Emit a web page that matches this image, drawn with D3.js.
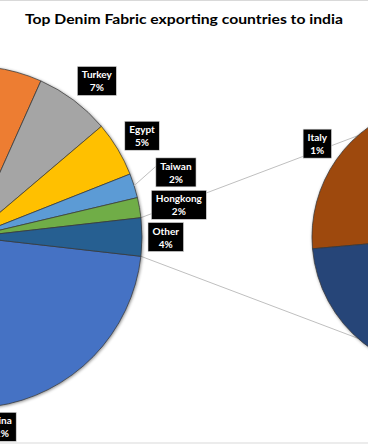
<!DOCTYPE html>
<html><head><meta charset="utf-8">
<script src="https://cdn.jsdelivr.net/npm/d3@7"></script>
<style>body{margin:0;background:#fff}svg{display:block}</style>
</head><body><svg id="c" width="368" height="445"></svg>
<script>
// ---- data ----
const title = "Top Denim Fabric exporting countries to india";
const categories = ["China", "Pakistan", "Turkey", "Egypt", "Taiwan", "Hongkong", "Other"];
const values = [42, 37.9, 7.1, 5.2, 2.3, 1.9, 3.6];
const subCategories = ["Italy", "Rest"];
const subValues = [0.8, 2.8];

// ---- styles / layout ----
const colors = ["#4472C4", "#ED7D31", "#A5A5A5", "#FFC000", "#5B9BD5", "#70AD47", "#255E91"];
const subColors = ["#9E480E", "#264478"];
const W = 368, H = 445;
const main = {cx: -29, cy: 237, r: 171};
const sub = {cx: 447, cy: 237, r: 135};
const labelNudge = {Taiwan: [16, -5], Hongkong: [6, 2], Turkey: [2, 0], Egypt: [2, 1]};
const leaderFor = ["Taiwan"];
const FONT = "Lato, 'Open Sans', sans-serif";

const svg = d3.select("#c");
const defs = svg.append("defs");
const f = defs.append("filter").attr("id", "sh").attr("x", "-20%").attr("y", "-20%").attr("width", "140%").attr("height", "140%");
f.append("feDropShadow").attr("dx", 0.8).attr("dy", 0.8).attr("stdDeviation", 1.6)
  .attr("flood-color", "#000").attr("flood-opacity", 0.45);

// border
svg.append("rect").attr("x", -2).attr("y", 0.5).attr("width", W + 4).attr("height", 442.5)
  .attr("fill", "none").attr("stroke", "#d9d9d9").attr("stroke-width", 1);

// title
svg.append("text").attr("x", W / 2).attr("y", 23.5).attr("text-anchor", "middle")
  .attr("font-family", FONT).attr("font-weight", "bold").attr("font-size", 14)
  .attr("fill", "#000").attr("textLength", 318).attr("lengthAdjust", "spacingAndGlyphs")
  .text(title);

const total = d3.sum(values);
const pct = d3.format(".0%");
const deg = Math.PI / 180;

// main pie: "Other" slice centred on the horizontal, pointing at the sub pie
const otherAngle = values[values.length - 1] / total * 2 * Math.PI;
const mainStart = Math.PI / 2 + otherAngle / 2;
const pieMain = d3.pie().sort(null).startAngle(mainStart).endAngle(mainStart + 2 * Math.PI);
const arcsMain = pieMain(values);
const otherArc = arcsMain[arcsMain.length - 1];

// sub pie
const subStart = 265 * deg;
const pieSub = d3.pie().sort(null).startAngle(subStart).endAngle(subStart + 2 * Math.PI);
const arcsSub = pieSub(subValues);

const pt = (c, r, a) => [c.cx + r * Math.sin(a), c.cy - r * Math.cos(a)];

// connector lines
const gl = svg.append("g").attr("stroke", "#bfbfbf").attr("stroke-width", 1).attr("fill", "none");
const a1 = pt(main, main.r, otherArc.startAngle), a2 = pt(main, main.r, otherArc.endAngle);
gl.append("line").attr("x1", a1[0]).attr("y1", a1[1]).attr("x2", sub.cx).attr("y2", sub.cy - sub.r);
gl.append("line").attr("x1", a2[0]).attr("y1", a2[1]).attr("x2", sub.cx).attr("y2", sub.cy + sub.r);

const arcM = d3.arc().innerRadius(0).outerRadius(main.r);
const arcS = d3.arc().innerRadius(0).outerRadius(sub.r);

svg.append("g").attr("transform", `translate(${main.cx},${main.cy})`).attr("filter", "url(#sh)")
  .selectAll("path").data(arcsMain).join("path")
  .attr("d", arcM).attr("fill", (d, i) => colors[i])
  .attr("stroke", "#3a3a3a").attr("stroke-width", 0.75).attr("stroke-linejoin", "round");

svg.append("g").attr("transform", `translate(${sub.cx},${sub.cy})`).attr("filter", "url(#sh)")
  .selectAll("path").data(arcsSub).join("path")
  .attr("d", arcS).attr("fill", (d, i) => subColors[i])
  .attr("stroke", "#3a3a3a").attr("stroke-width", 0.75).attr("stroke-linejoin", "round");

// labels
const gLab = svg.append("g");
function label(c, a, name, text) {
  const mid = (a.startAngle + a.endAngle) / 2;
  const dx = Math.sin(mid), dy = -Math.cos(mid);
  const p = pt(c, c.r + 6, mid);
  const g = gLab.append("g");
  const t1 = g.append("text").attr("text-anchor", "middle").attr("font-family", FONT)
    .attr("font-weight", "bold").attr("font-size", 10).attr("fill", "#fff").text(name);
  const t2 = g.append("text").attr("text-anchor", "middle").attr("font-family", FONT)
    .attr("font-weight", "bold").attr("font-size", 10).attr("fill", "#fff").text(text);
  const tw = Math.max(t1.node().getComputedTextLength(), t2.node().getComputedTextLength());
  const w = tw + 9, h = 29;
  const cl = v => Math.max(-1, Math.min(1, v));
  let cx = p[0] + w / 2 * cl(dx * 1.5), cy = p[1] + h / 2 * cl(dy * 1.5);
  const n = labelNudge[name];
  if (n) { cx += n[0]; cy += n[1]; }
  if (leaderFor.includes(name)) {
    const q = pt(c, c.r, mid);
    gLab.insert("line", ":first-child").attr("x1", q[0]).attr("y1", q[1])
      .attr("x2", cx - w / 2).attr("y2", cy - 6)
      .attr("stroke", "#bfbfbf").attr("stroke-width", 1);
  }
  g.insert("rect", ":first-child").attr("x", cx - w / 2).attr("y", cy - h / 2)
    .attr("width", w).attr("height", h).attr("fill", "#000")
    .attr("stroke", "#d9d9d9").attr("stroke-width", 0.6);
  t1.attr("x", cx).attr("y", cy - 2.5);
  t2.attr("x", cx).attr("y", cy + 10.5);
}
arcsMain.forEach((a, i) => label(main, a, categories[i], pct(values[i] / total)));
arcsSub.forEach((a, i) => label(sub, a, subCategories[i], pct(subValues[i] / total)));
</script></body></html>
